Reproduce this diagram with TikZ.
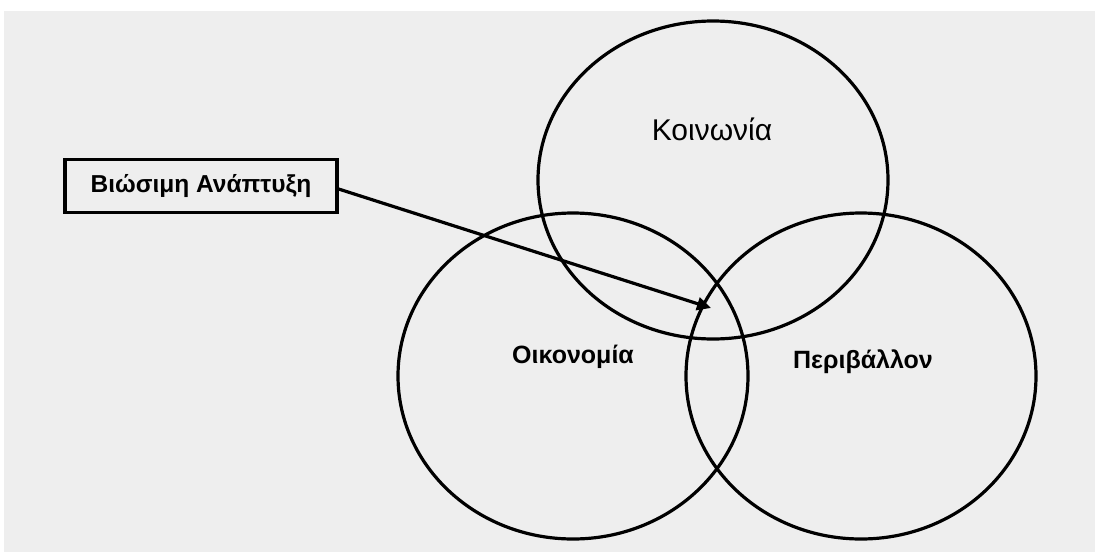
\documentclass[tikz,border=0pt]{standalone}
\usepackage{fontspec}
\setmainfont{Liberation Sans}
\usetikzlibrary{arrows.meta}
\definecolor{paper}{HTML}{EEEEEE}

\begin{document}
\begin{tikzpicture}[x=1pt,y=-1pt,
    ring/.style={line width=3.2pt},
    area/.style={font=\fontsize{25}{29}\selectfont\bfseries},
    goal/.style={draw,line width=3.2pt,minimum width=272pt,minimum height=53pt,
      font=\fontsize{24.5}{28}\selectfont\bfseries}]
    \useasboundingbox (0,0) rectangle (1095,552);
    \fill[paper] (4,11) rectangle (1095,552);
    % society
    \draw[ring] (713,180) ellipse [x radius=175, y radius=159];
    \node[font=\fontsize{30}{34}\selectfont] (soc) at (712,129) {Κοινωνία};
    % economy
    \draw[ring] (573,376) ellipse [x radius=175, y radius=163];
    \node[area] (eco) at (573,357) {Οικονομία};
    % environment
    \draw[ring] (861,376) ellipse [x radius=175, y radius=163];
    \node[area] (env) at (863,362) {Περιβάλλον};
    % sustainable development
    \node[goal] (sd) at (201,186) {Βιώσιμη Ανάπτυξη};
    \coordinate (core) at (711,308);
    \draw[line width=3.2pt,-{Triangle[length=14pt,width=13pt]}] (sd.east) ++(0,3) -- (core);
  \end{tikzpicture}
\end{document}
